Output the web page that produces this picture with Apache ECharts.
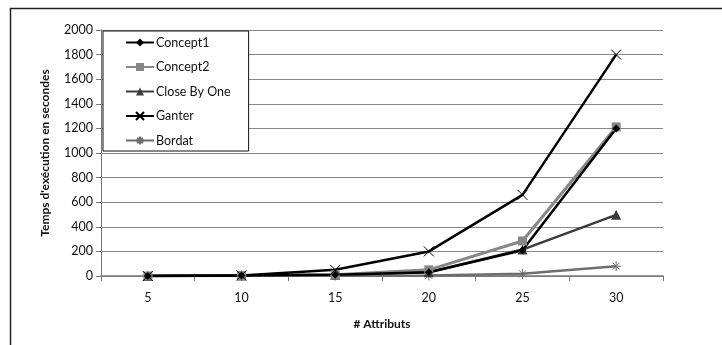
<!DOCTYPE html>
<html>
<head>
<meta charset="utf-8">
<script src="https://cdn.jsdelivr.net/npm/echarts@6/dist/echarts.min.js"></script>
<style>
  html, body { margin: 0; padding: 0; background: #fff; }
  #chart { width: 722px; height: 345px; }
</style>
</head>
<body>
<div id="chart"></div>
<script>
// Execution time (seconds) by number of attributes
const attributs = ['5', '10', '15', '20', '25', '30'];
const concept1 = [0, 5, 10, 30, 210, 1200];
const concept2 = [0, 5, 10, 50, 285, 1212];
const closeByOne = [0, 5, 10, 30, 215, 497];
const ganter = [0, 5, 50, 200, 660, 1800];
const bordat = [0, 2, 3, 5, 18, 80];

const crossPath = 'path://M0,0L10,10M10,0L0,10';
const starPath = 'path://M0,5L10,5M5,0L5,10M1.5,1.5L8.5,8.5M8.5,1.5L1.5,8.5';

const font = 'Lato, "Open Sans", sans-serif';

function lineSeries(name, data, color, width, symbol, size, stroked) {
  return {
    name: name,
    type: 'line',
    data: data,
    symbol: symbol,
    symbolSize: size,
    showAllSymbol: true,
    lineStyle: { color: color, width: width },
    itemStyle: stroked
      ? { color: color, borderColor: color, borderWidth: 1 }
      : { color: color, borderWidth: 0 },
    emphasis: { disabled: true },
    animation: false
  };
}

const chart = echarts.init(document.getElementById('chart'), null, { renderer: 'canvas' });
chart.setOption({
  backgroundColor: '#fff',
  animation: false,
  graphic: [{
    type: 'rect',
    shape: { x: 10.5, y: 8.5, width: 900, height: 500 },
    style: { fill: 'none', stroke: '#222', lineWidth: 1.5 },
    z: -10
  }],
  grid: { left: 101, right: 59, top: 30, bottom: 69 },
  legend: {
    orient: 'vertical',
    left: 103,
    top: 31,
    padding: [5, 18, 4, 22],
    itemGap: 11.5,
    itemWidth: 28,
    itemHeight: 10,
    backgroundColor: '#fff',
    borderColor: '#111',
    borderWidth: 1,
    textStyle: { fontFamily: font, fontSize: 12.5, color: '#111', padding: [0, 0, 0, -3] },
    data: ['Concept1', 'Concept2', 'Close By One', 'Ganter', 'Bordat']
  },
  xAxis: {
    type: 'category',
    data: attributs,
    boundaryGap: true,
    name: '# Attributs',
    nameLocation: 'middle',
    nameGap: 42,
    nameTextStyle: { fontFamily: font, fontSize: 12, fontWeight: 'bold', color: '#111' },
    axisLine: { lineStyle: { color: '#777', width: 1.5 } },
    axisTick: { show: true, length: 5, lineStyle: { color: '#777' } },
    axisLabel: { fontFamily: font, fontSize: 12.5, color: '#111', margin: 15 },
    splitLine: { show: false }
  },
  yAxis: {
    type: 'value',
    min: 0,
    max: 2000,
    interval: 200,
    name: "Temps d'exécution en secondes",
    nameLocation: 'middle',
    nameGap: 50,
    nameTextStyle: { fontFamily: font, fontSize: 12, fontWeight: 'bold', color: '#111' },
    axisLine: { show: true, lineStyle: { color: '#777', width: 1 } },
    axisTick: { show: true, length: 5, lineStyle: { color: '#777' } },
    axisLabel: { fontFamily: font, fontSize: 12.5, color: '#111', margin: 8, formatter: v => String(v) },
    splitLine: { show: true, lineStyle: { color: '#888', width: 1 } }
  },
  series: [
    lineSeries('Bordat', bordat, '#6e6e6e', 2.5, starPath, 10, true),
    lineSeries('Close By One', closeByOne, '#3c3c3c', 2.5, 'triangle', 10, false),
    lineSeries('Concept2', concept2, '#878787', 3, 'rect', 9, false),
    lineSeries('Concept1', concept1, '#000', 2.5, 'diamond', 8, false),
    lineSeries('Ganter', ganter, '#000', 2.5, crossPath, 10, true)
  ]
});
</script>
</body>
</html>
